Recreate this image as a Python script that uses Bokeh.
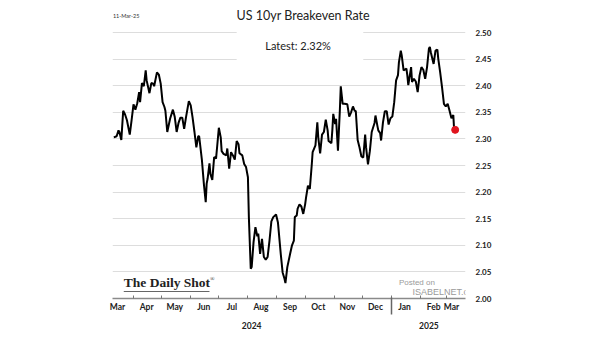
import pandas as pd
from bokeh.plotting import figure
from bokeh.models import (Range1d, LinearAxis, FixedTicker, NumeralTickFormatter, Label,
                          BoxAnnotation, ColumnDataSource)
from bokeh.embed import file_html
from bokeh.resources import INLINE

# ---------------- data ----------------
BASE_DATE = "2024-03-01"          # day 0 of the day offsets below
days = [10, 13, 15, 16, 18, 20, 22, 24, 27, 29, 31, 33, 35, 37, 38, 40, 42, 44, 45, 48,
        50, 52, 53, 56, 58, 60, 62, 64, 65, 67, 70, 73, 75, 77, 79, 81, 83, 85, 87, 90,
        92, 94, 96, 98, 100, 101, 104, 106, 108,
        109, 110, 112, 113, 115, 117, 119, 120, 122, 124, 125, 127, 130, 131, 133, 135, 137, 139, 141, 143,
        144, 147, 149, 151, 153, 154, 156, 157, 159, 161, 163, 164, 166, 168, 170, 172, 174, 176, 178, 180,
        183, 185, 188, 190, 192, 193, 195, 198,
        200, 202, 203, 205, 206, 208, 210, 212, 214, 215, 217, 219, 221, 222, 225, 227, 228, 230, 232, 234,
        236, 238, 239, 242, 243, 244, 246, 247, 249, 251, 252, 254, 256, 259, 261, 263, 265, 267, 268, 270,
        272, 274, 276, 278, 279, 281, 283, 285, 288, 289,
        291, 292, 294, 295, 297, 299, 301, 303, 305, 307, 309, 311, 313, 314, 316, 317, 319, 322, 323, 324,
        327, 328, 330, 332, 334, 336, 338, 340, 342, 344, 346, 347, 348, 351, 353, 355, 356, 358, 360, 362,
        364, 366, 368, 370, 372, 373, 374]
rate = [2.303, 2.305, 2.316, 2.313, 2.298, 2.353, 2.346, 2.335, 2.308, 2.336,
        2.365, 2.355, 2.367, 2.388, 2.369, 2.405, 2.399, 2.429, 2.410, 2.386,
        2.405, 2.404, 2.399, 2.425, 2.421, 2.404, 2.369, 2.360, 2.353, 2.313,
        2.338, 2.355, 2.341, 2.313, 2.330, 2.340, 2.340, 2.319, 2.341, 2.371,
        2.363, 2.340, 2.313, 2.284, 2.305, 2.305, 2.259, 2.216, 2.181,
        2.216, 2.225, 2.254, 2.234, 2.223, 2.266, 2.263, 2.282, 2.321, 2.303,
        2.277, 2.272, 2.269, 2.282, 2.244, 2.275, 2.269, 2.261, 2.296, 2.290,
        2.273, 2.269, 2.253, 2.247, 2.228, 2.153, 2.056, 2.059, 2.106, 2.134,
        2.117, 2.122, 2.084, 2.112, 2.078, 2.073, 2.078, 2.109, 2.145, 2.153,
        2.158, 2.143, 2.084, 2.049, 2.037, 2.029, 2.059, 2.084,
        2.100, 2.109, 2.153, 2.156, 2.169, 2.177, 2.173, 2.159, 2.177, 2.190,
        2.212, 2.206, 2.250, 2.275, 2.288, 2.331, 2.303, 2.273, 2.308, 2.313,
        2.336, 2.316, 2.296, 2.292, 2.316, 2.347, 2.328, 2.338, 2.278, 2.353,
        2.399, 2.366, 2.366, 2.365, 2.342, 2.350, 2.361, 2.352, 2.353, 2.298,
        2.284, 2.267, 2.265, 2.308, 2.284, 2.252, 2.277, 2.313, 2.330, 2.344,
        2.325, 2.316, 2.311, 2.297, 2.331, 2.352, 2.352, 2.327, 2.339, 2.342,
        2.369, 2.410, 2.420, 2.444, 2.466, 2.457, 2.429, 2.432, 2.419, 2.401,
        2.435, 2.407, 2.413, 2.408, 2.388, 2.419, 2.435, 2.430, 2.413, 2.435,
        2.470, 2.473, 2.463, 2.441, 2.466, 2.468, 2.450, 2.425, 2.397, 2.366,
        2.361, 2.366, 2.353, 2.339, 2.345, 2.313, 2.317]

y_ticks = [2.00, 2.05, 2.10, 2.15, 2.20, 2.25, 2.30, 2.35, 2.40, 2.45, 2.50]
month_labels = ["Mar", "Apr", "May", "Jun", "Jul", "Aug", "Sep", "Oct", "Nov", "Dec",
                "Jan", "Feb", "Mar"]
month_label_dates = ["2024-03-15", "2024-04-15", "2024-05-15", "2024-06-15", "2024-07-15",
                     "2024-08-15", "2024-09-15", "2024-10-15", "2024-11-15", "2024-12-15",
                     "2025-01-15", "2025-02-15", "2025-03-06"]
month_start_dates = ["2024-04-01", "2024-05-01", "2024-06-01", "2024-07-01", "2024-08-01",
                     "2024-09-01", "2024-10-01", "2024-11-01", "2024-12-01", "2025-01-01",
                     "2025-02-01", "2025-03-01"]
year_labels = ["2024", "2025"]
year_label_dates = ["2024-08-05", "2025-02-10"]
year_break_date = "2025-01-01"
range_start_date, range_end_date = "2024-03-10", "2025-03-21"

title_text = "US 10yr Breakeven Rate"
latest_text = "Latest:  2.32%"
stamp_text = "11-Mar-25"

# ---------------- helpers ----------------
base = pd.Timestamp(BASE_DATE)
def day_of(s):
    return (pd.Timestamp(s) - base).days

label_ticks = [day_of(s) for s in month_label_dates]
start_ticks = [day_of(s) for s in month_start_dates]
year_ticks = [day_of(s) for s in year_label_dates]

source = ColumnDataSource(data=dict(day=days, rate=rate))

# frame reaches the top of the canvas so the header texts sit inside it
Y_TOP = 2.5602
p = figure(width=605, height=341,
           x_range=Range1d(day_of(range_start_date) - 0.4, day_of(range_end_date)),
           y_range=Range1d(2.0, Y_TOP),
           y_axis_location="right",
           output_backend="svg", toolbar_location=None,
           min_border_left=112, min_border_right=140,
           min_border_top=0, min_border_bottom=43,
           background_fill_color="white", border_fill_color="white")
p.outline_line_color = None

# grid
p.xgrid.grid_line_color = None
p.ygrid.grid_line_color = "#dddddd"
p.ygrid.grid_line_width = 1

# right y axis
yax = p.yaxis[0]
yax.ticker = FixedTicker(ticks=y_ticks, minor_ticks=[])
yax.formatter = NumeralTickFormatter(format="0.00")
yax.axis_line_color = None
yax.major_tick_line_color = None
yax.minor_tick_line_color = None
yax.major_tick_in = 0
yax.major_tick_out = 0
yax.major_label_standoff = 10
yax.major_label_text_font = "Lato"
yax.major_label_text_font_style = "bold"
yax.major_label_text_font_size = "8px"
yax.major_label_text_color = "#222222"

# month axis
xax = p.xaxis[0]
xax.ticker = FixedTicker(ticks=label_ticks, minor_ticks=start_ticks)
xax.major_label_overrides = {t: lab for t, lab in zip(label_ticks, month_labels)}
xax.major_tick_line_color = None
xax.major_tick_in = 0
xax.major_tick_out = 0
xax.minor_tick_in = 3
xax.minor_tick_out = 0
xax.minor_tick_line_color = "#777777"
xax.minor_tick_line_width = 1
xax.axis_line_color = "#8a8a8a"
xax.axis_line_width = 1.5
xax.major_label_standoff = 3
xax.major_label_text_font = "Lato"
xax.major_label_text_font_style = "bold"
xax.major_label_text_font_size = "8.5px"
xax.major_label_text_color = "#222222"

# year axis (with separator tick at the year break)
yr = LinearAxis(ticker=FixedTicker(ticks=year_ticks, minor_ticks=[day_of(year_break_date)]),
                major_label_overrides={t: lab for t, lab in zip(year_ticks, year_labels)},
                axis_line_color=None,
                major_tick_line_color=None, major_tick_in=0, major_tick_out=0,
                minor_tick_in=17, minor_tick_out=0,
                minor_tick_line_color="#666666", minor_tick_line_width=1.5,
                major_label_standoff=7,
                major_label_text_font="Lato", major_label_text_font_style="bold",
                major_label_text_font_size="8.5px", major_label_text_color="#222222")
p.add_layout(yr, "below")

# white panel behind the "Latest" text (hides the grid lines there)
p.add_layout(BoxAnnotation(left=141, right=276, bottom=2.425,
                           fill_color="white", fill_alpha=1.0, line_color=None))

# data line and latest point
p.line(x="day", y="rate", source=source, line_color="black", line_width=2)
p.scatter(x=[days[-1]], y=[rate[-1]], size=7, color="#e0141e", line_color="#e0141e")

# texts
p.add_layout(Label(x=212, y=2.532, text=title_text, text_align="center",
                   text_baseline="middle", text_font="Lato", text_font_size="12.5px",
                   text_color="#222222"))
p.add_layout(Label(x=208, y=2.476, text=latest_text, text_align="center",
                   text_baseline="middle", text_font="Lato", text_font_size="11px",
                   text_color="#222222"))
p.add_layout(Label(x=day_of(range_start_date), y=2.532, text=stamp_text, text_align="left",
                   text_baseline="middle", text_font="Lato", text_font_size="5.5px",
                   text_color="#333333"))
# logo
p.add_layout(Label(x=20.6, y=2.0300, text="The Daily Shot", text_align="left",
                   text_baseline="middle", text_font="Liberation Serif",
                   text_font_style="bold", text_font_size="13.5px", text_color="#222222"))
p.add_layout(BoxAnnotation(left=20.6, right=112, bottom=2.0125, top=2.0142,
                           fill_color="#333333", fill_alpha=1.0, line_color=None))
p.add_layout(Label(x=112.5, y=2.0360, text="\u00ae", text_align="left",
                   text_baseline="middle", text_font="Liberation Serif",
                   text_font_size="6px", text_color="#222222"))
# watermark
p.add_layout(Label(x=314, y=2.0300, text="Posted on", text_align="left",
                   text_baseline="middle", text_font="Liberation Sans",
                   text_font_size="8px", text_color="#9a9a9a"))
p.add_layout(Label(x=300, y=7, x_units="screen", y_units="screen", text="ISABELNET.com",
                   text_align="left", text_baseline="middle", text_font="Liberation Sans",
                   text_font_size="9px", text_color="#9a9a9a"))

open("out.html", "w").write(file_html(p, INLINE))
